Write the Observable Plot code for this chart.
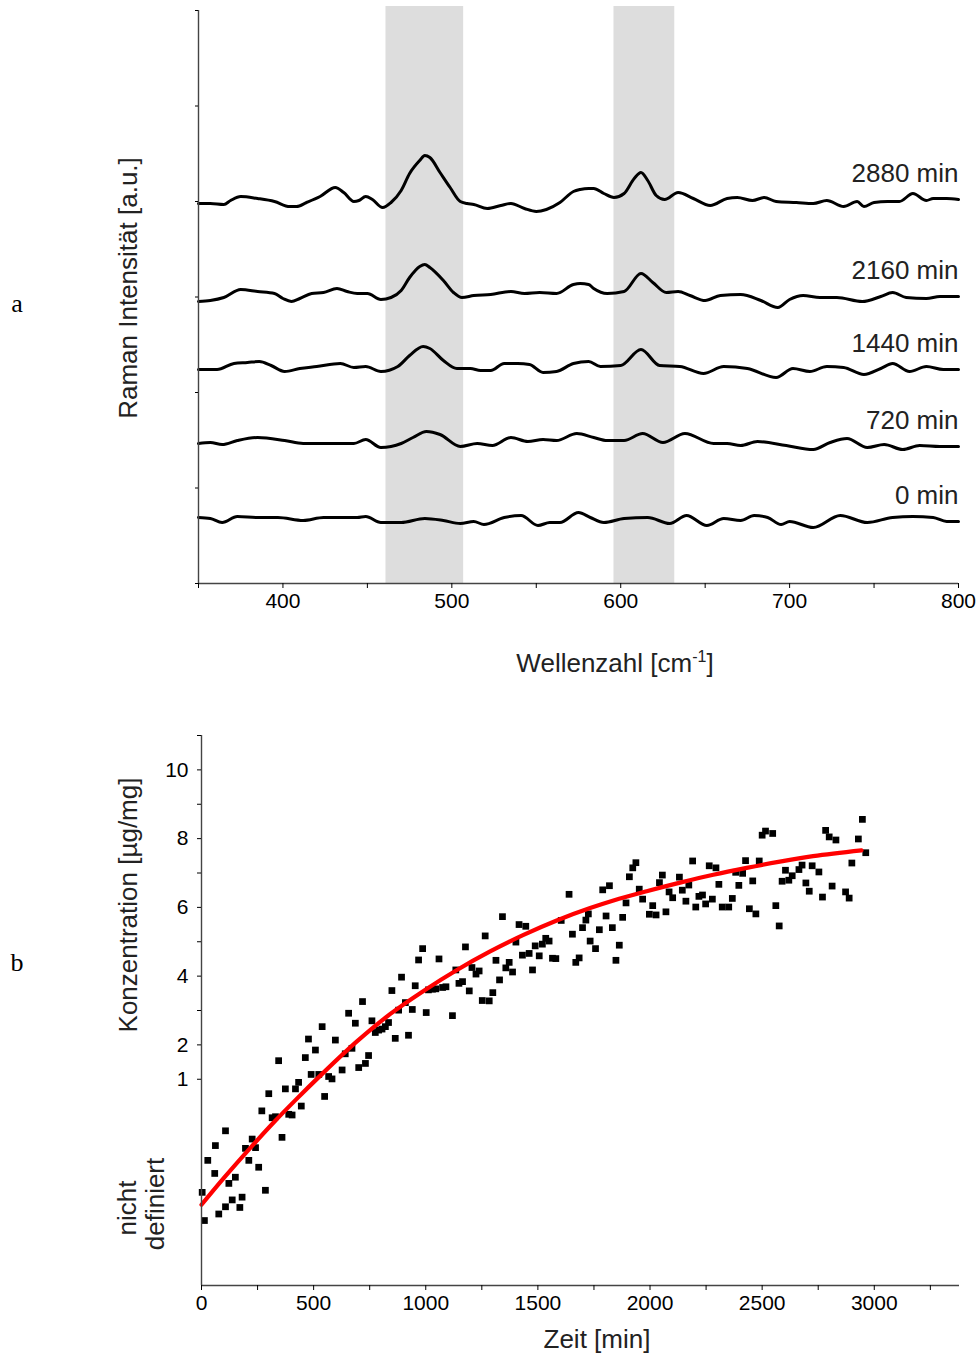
<!DOCTYPE html>
<html><head><meta charset="utf-8">
<script src="https://cdn.jsdelivr.net/npm/d3@7"></script>
<script src="https://cdn.jsdelivr.net/npm/@observablehq/plot@0.6"></script>
<style>
body{margin:0;background:#fff;}
#wrap{position:relative;width:979px;height:1355px;font-family:"Liberation Sans",Arial,sans-serif;}
#wrap svg{position:absolute;left:0;overflow:visible;}
</style></head><body><div id="wrap"></div>
<script>
// ---------- Panel a: Raman spectra (wavenumber, intensity a.u.) ----------
const spec2880 = [[350,380],[357,380],[365,379],[369,383],[375,387],[385,385],[395,382],[404,377],[408,377],[414,381],[422,387],[431,396],[436,391],[442,382],[445,383],[449,387],[453,384],[459,376],[464,381],[470,393],[475,410],[481,423],[484,428],[487,426],[493,411],[499,396],[505,382],[509,380],[513,379],[521,375],[529,378],[535,380],[543,375],[550,372],[556,374],[564,381],[572,392],[576,394],[581,395],[584,395],[590,390],[596,386],[602,390],[608,405],[612,411],[616,403],[621,388],[626,384],[634,391],[643,385],[653,378],[663,385],[669,386],[678,383],[685,386],[692,382],[704,381],[714,380],[722,383],[732,377],[740,382],[744,377],[750,381],[758,382],[765,382],[773,390],[781,383],[785,385],[793,385],[800,384]];
const spec2160 = [[350,282],[357,283],[365,286],[375,294],[385,292],[395,290],[400,285],[405,282],[410,285],[417,290],[424,291],[432,295],[438,292],[444,290],[450,290],[458,284],[464,286],[470,293],[475,306],[481,317],[484,319],[487,316],[495,303],[501,291],[506,286],[513,288],[523,289],[535,292],[543,290],[552,291],[562,290],[572,299],[576,300],[581,299],[584,295],[592,290],[602,292],[612,310],[619,301],[627,291],[634,292],[641,288],[650,283],[659,288],[671,289],[683,283],[693,276],[700,284],[708,288],[718,286],[728,286],[743,282],[754,287],[761,291],[769,286],[781,285],[789,287],[800,287]];
const spec1440 = [[350,214],[361,214],[371,220],[379,221],[386,222],[393,218],[401,212],[410,215],[420,217],[434,220],[442,216],[449,217],[458,212],[468,217],[475,228],[483,237],[487,235],[495,223],[503,215],[511,215],[517,213],[523,213],[531,220],[539,220],[546,219],[554,211],[562,212],[572,220],[581,222],[588,217],[600,218],[612,234],[623,218],[635,217],[649,210],[661,217],[675,215],[692,206],[702,215],[712,212],[722,217],[732,216],[744,209],[754,215],[761,220],[771,212],[781,217],[791,214],[800,214]];
const spec720 = [[350,140],[357,141],[364,139],[373,143],[385,146],[401,143],[412,140],[428,140],[442,140],[449,144],[458,136],[470,140],[477,146],[485,152],[493,149],[505,137],[515,140],[524,138],[535,146],[545,142],[554,144],[562,143],[574,150],[584,146],[592,143],[602,143],[613,150],[625,141],[638,150],[655,140],[663,140],[671,138],[681,142],[698,138],[714,134],[724,141],[734,145],[746,136],[756,139],[767,134],[777,138],[789,137],[800,137]];
const spec0 = [[350,66],[357,65],[364,61],[373,67],[385,66],[397,66],[412,63],[424,66],[434,66],[444,66],[449,67],[458,61],[470,61],[484,65],[495,63],[505,60],[513,62],[519,59],[531,66],[541,68],[551,58],[558,61],[564,61],[575,71],[582,66],[590,61],[602,65],[616,66],[629,60],[639,68],[651,58],[661,65],[671,63],[679,68],[687,66],[695,59],[700,62],[714,56],[730,68],[746,61],[761,66],[773,67],[785,66],[793,62],[800,62]];
const spectra = [spec2880, spec2160, spec1440, spec720, spec0];
const timeLabels = ["2880 min", "2160 min", "1440 min", "720 min", "0 min"];
const bandFrom = [461, 596];
const bandTo = [507, 632];
const xTicksA = [350,400,450,500,550,600,650,700,750,800];
const xLabelsA = [400,500,600,700,800];
const yTicksA = [0,95.5,191,286.5,382,477.5,573];

// ---------- Panel b: concentration vs time ----------
const messpunkte = [
[3,-2.29],[13,-3.11],[28,-1.36],[59,-1.74],[62,-0.93],[77,-2.92],[107,-0.50],[107,-2.71],[122,-2.03],[137,-2.51],
[151,-1.85],[171,-2.73],[181,-2.43],[196,-1.01],[211,-1.36],[226,-0.74],[241,-0.99],[255,-1.56],[269,0.08],[285,-2.23],
[300,0.58],[315,-0.12],[330,-0.09],[344,1.54],[359,-0.69],[374,0.72],[389,-0.02],[404,-0.04],[419,0.72],[433,0.91],
[445,0.22],[463,1.63],[477,2.17],[489,1.14],[508,1.85],[523,1.14],[538,2.53],[549,0.50],[567,1.08],[582,1.01],
[597,2.14],[627,1.27],[641,1.74],[656,2.92],[671,1.90],[686,2.63],[701,1.34],[718,3.26],[731,1.46],[745,1.69],
[760,2.70],[775,2.36],[790,2.43],[805,2.46],[820,2.53],[834,2.65],[864,2.19],[879,3.01],
[1639,6.38],[1342,5.73],[1416,5.50],[1446,5.45],[1604,5.62],[1654,5.22],[1699,5.41],[1714,5.63],[1725,5.81],[1733,5.02],
[1265,5.17],[1177,4.85],[986,4.80],[968,4.47],[1059,4.50],[1402,4.99],[1313,4.46],[1372,4.40],[1357,4.24],[1387,4.12],
[1431,4.61],[1461,4.66],[1488,4.88],[1506,4.59],[1520,4.93],[1535,5.10],[1550,5.02],[1565,4.52],[1580,4.51],[1669,4.40],
[1684,4.53],[1476,4.18],[1329,3.89],[1206,4.25],[1224,4.06],[1238,4.15],[1299,3.52],[1252,3.29],[1283,3.28],[1194,3.57],
[1148,3.79],[1164,3.84],[1119,2.85],[1134,4.18],[1090,3.69],[1075,3.67],[1045,3.63],[1030,3.62],[1012,3.60],[1002,2.94],
[953,3.72],[940,3.03],[909,3.23],[892,3.97],[849,3.58],[923,2.28],
[2947,8.56],[2929,7.99],[2962,7.59],[2900,7.29],[2783,8.24],[2799,8.05],[2829,7.96],[2872,6.45],[2888,6.27],[2812,6.62],
[2769,6.30],[2695,6.71],[2710,6.47],[2753,7.03],[2723,7.21],[2678,7.23],[2664,7.10],[2634,6.92],[2619,6.79],[2589,6.76],
[2604,7.08],[2561,6.05],[2576,5.46],[2500,8.10],[2515,8.22],[2547,8.15],[2487,7.35],[2458,6.77],[2443,5.96],[2472,5.81],
[2426,7.36],[2413,6.99],[2396,6.64],[2382,7.02],[2367,6.26],[2351,6.01],[2322,6.01],[2307,6.67],[2294,7.15],[2264,7.21],
[2278,6.24],[2248,6.10],[2234,6.36],[2218,6.32],[2204,6.01],[2190,7.35],[2160,6.18],[2144,6.50],[2173,6.65],[2131,6.88],
[2101,6.28],[2085,6.45],[2071,5.87],[2055,6.94],[2042,6.72],[2027,5.78],[2012,6.05],[1997,5.80],[1967,6.24],[1952,6.53],
[1937,7.30],[1923,7.15],[1908,6.89],[1893,6.13],[1878,5.71],[1863,4.90],[1848,4.46],[1832,5.41],[1819,6.63],[1789,6.51],
[1804,5.75],[1774,5.35],[1757,4.80]
];
const fitKurve = [[0,-2.65],[100,-1.87],[220,-0.98],[330,-0.2],[420,0.4],[545,1.2],[693,2.1],[842,2.9],[990,3.57],[1139,4.18],[1287,4.72],[1436,5.2],[1584,5.62],[1733,5.98],[1837,6.2],[1985,6.47],[2134,6.72],[2282,6.95],[2431,7.15],[2579,7.33],[2727,7.49],[2943,7.66]];
const xTicksB = [0,250,500,750,1000,1250,1500,1750,2000,2250,2500,2750,3000,3250];
const xLabelsB = [0,500,1000,1500,2000,2500,3000];
const yTicksB = [1,2,3,4,5,6,7,8,9,10,11];
const yLabelsB = [1,2,4,6,8,10];

// ---------- build tables ----------
const specRows = spectra.flatMap((s, k) => s.map(([w, i]) => ({w, i, s: timeLabels[k]})));
const labelRows = spectra.map((s, k) => ({label: timeLabels[k], w: s[s.length - 1][0], i: s[s.length - 1][1]}));
const bands = bandFrom.map((lo, k) => ({lo, hi: bandTo[k]}));
const pts = messpunkte.map(([t, c]) => ({t, c}));
const fit = fitKurve.map(([t, c]) => ({t, c}));

const font = "Liberation Sans, Arial, sans-serif";
const wrap = document.getElementById("wrap");

const plotA = Plot.plot({
  width: 979, height: 700,
  marginLeft: 198, marginRight: 21, marginTop: 10, marginBottom: 117,
  x: {domain: [350, 800]},
  y: {domain: [0, 573]},
  style: {fontFamily: font, fontSize: "21px", color: "#000", background: "transparent"},
  marks: [
    Plot.rect(bands, {x1: "lo", x2: "hi", y1: 0, y2: 577, fill: "#dddddd"}),
    Plot.line(specRows, {x: "w", y: "i", z: "s", stroke: "#000", strokeWidth: 3, curve: "monotone-x"}),
    Plot.text(labelRows, {x: "w", y: "i", text: "label", textAnchor: "end", lineAnchor: "bottom", dy: -18, fontSize: 26, fill: "#222"}),
    Plot.ruleX([350], {stroke: "#444", strokeWidth: 1.4}),
    Plot.ruleY([0], {stroke: "#444", strokeWidth: 1.4}),
    Plot.axisX({ticks: xTicksA, tickSize: 5, tickPadding: 5, tickFormat: d => xLabelsA.includes(d) ? String(d) : "", label: null}),
    Plot.axisY({ticks: yTicksA, tickSize: 3, tickFormat: () => "", label: null})
  ]
});
plotA.style.top = "0px";
wrap.appendChild(plotA);

const sa = d3.select(plotA);
sa.append("text").attr("transform", "translate(137,288) rotate(-90)").attr("text-anchor", "middle")
  .attr("font-size", 26).attr("fill", "#222").attr("font-family", font).text("Raman Intensität [a.u.]");
const wl = sa.append("text").attr("x", 615).attr("y", 672).attr("text-anchor", "middle")
  .attr("font-size", 26).attr("fill", "#222").attr("font-family", font);
wl.append("tspan").text("Wellenzahl [cm");
wl.append("tspan").attr("dy", -10).attr("font-size", 16).text("-1");
wl.append("tspan").attr("dy", 10).text("]");
sa.append("text").attr("x", 17).attr("y", 312).attr("text-anchor", "middle")
  .attr("font-size", 26).attr("fill", "#000").attr("font-family", "Liberation Serif, Times New Roman, serif").text("a");

const plotB = Plot.plot({
  width: 979, height: 655,
  marginLeft: 201, marginRight: 20, marginTop: 35, marginBottom: 70,
  x: {domain: [0, 3380]},
  y: {domain: [-5, 11]},
  style: {fontFamily: font, fontSize: "21px", color: "#000", background: "transparent"},
  marks: [
    Plot.dot(pts, {x: "t", y: "c", symbol: "square", r: 3.8, fill: "#000", stroke: "none"}),
    Plot.line(fit, {x: "t", y: "c", stroke: "#ff0000", strokeWidth: 4.2, curve: "monotone-x"}),
    Plot.ruleX([0], {stroke: "#444", strokeWidth: 1.4}),
    Plot.ruleY([-5], {stroke: "#444", strokeWidth: 1.4}),
    Plot.axisX({ticks: xTicksB, tickSize: 5, tickPadding: 5, tickFormat: d => xLabelsB.includes(d) ? String(d) : "", label: null}),
    Plot.axisY({ticks: yTicksB, tickSize: 4, tickPadding: 9, tickFormat: d => yLabelsB.includes(d) ? String(d) : "", label: null})
  ]
});
plotB.style.top = "700px";
wrap.appendChild(plotB);

const sb = d3.select(plotB);
sb.append("text").attr("transform", "translate(137,205) rotate(-90)").attr("text-anchor", "middle")
  .attr("font-size", 26).attr("fill", "#222").attr("font-family", font).text("Konzentration [µg/mg]");
sb.append("text").attr("transform", "translate(136,508) rotate(-90)").attr("text-anchor", "middle")
  .attr("font-size", 26).attr("fill", "#222").attr("font-family", font).text("nicht");
sb.append("text").attr("transform", "translate(164,504) rotate(-90)").attr("text-anchor", "middle")
  .attr("font-size", 26).attr("fill", "#222").attr("font-family", font).text("definiert");
sb.append("text").attr("x", 597).attr("y", 648).attr("text-anchor", "middle")
  .attr("font-size", 26).attr("fill", "#222").attr("font-family", font).text("Zeit [min]");
sb.append("text").attr("x", 17).attr("y", 271).attr("text-anchor", "middle")
  .attr("font-size", 26).attr("fill", "#000").attr("font-family", "Liberation Serif, Times New Roman, serif").text("b");
</script>
</body></html>
